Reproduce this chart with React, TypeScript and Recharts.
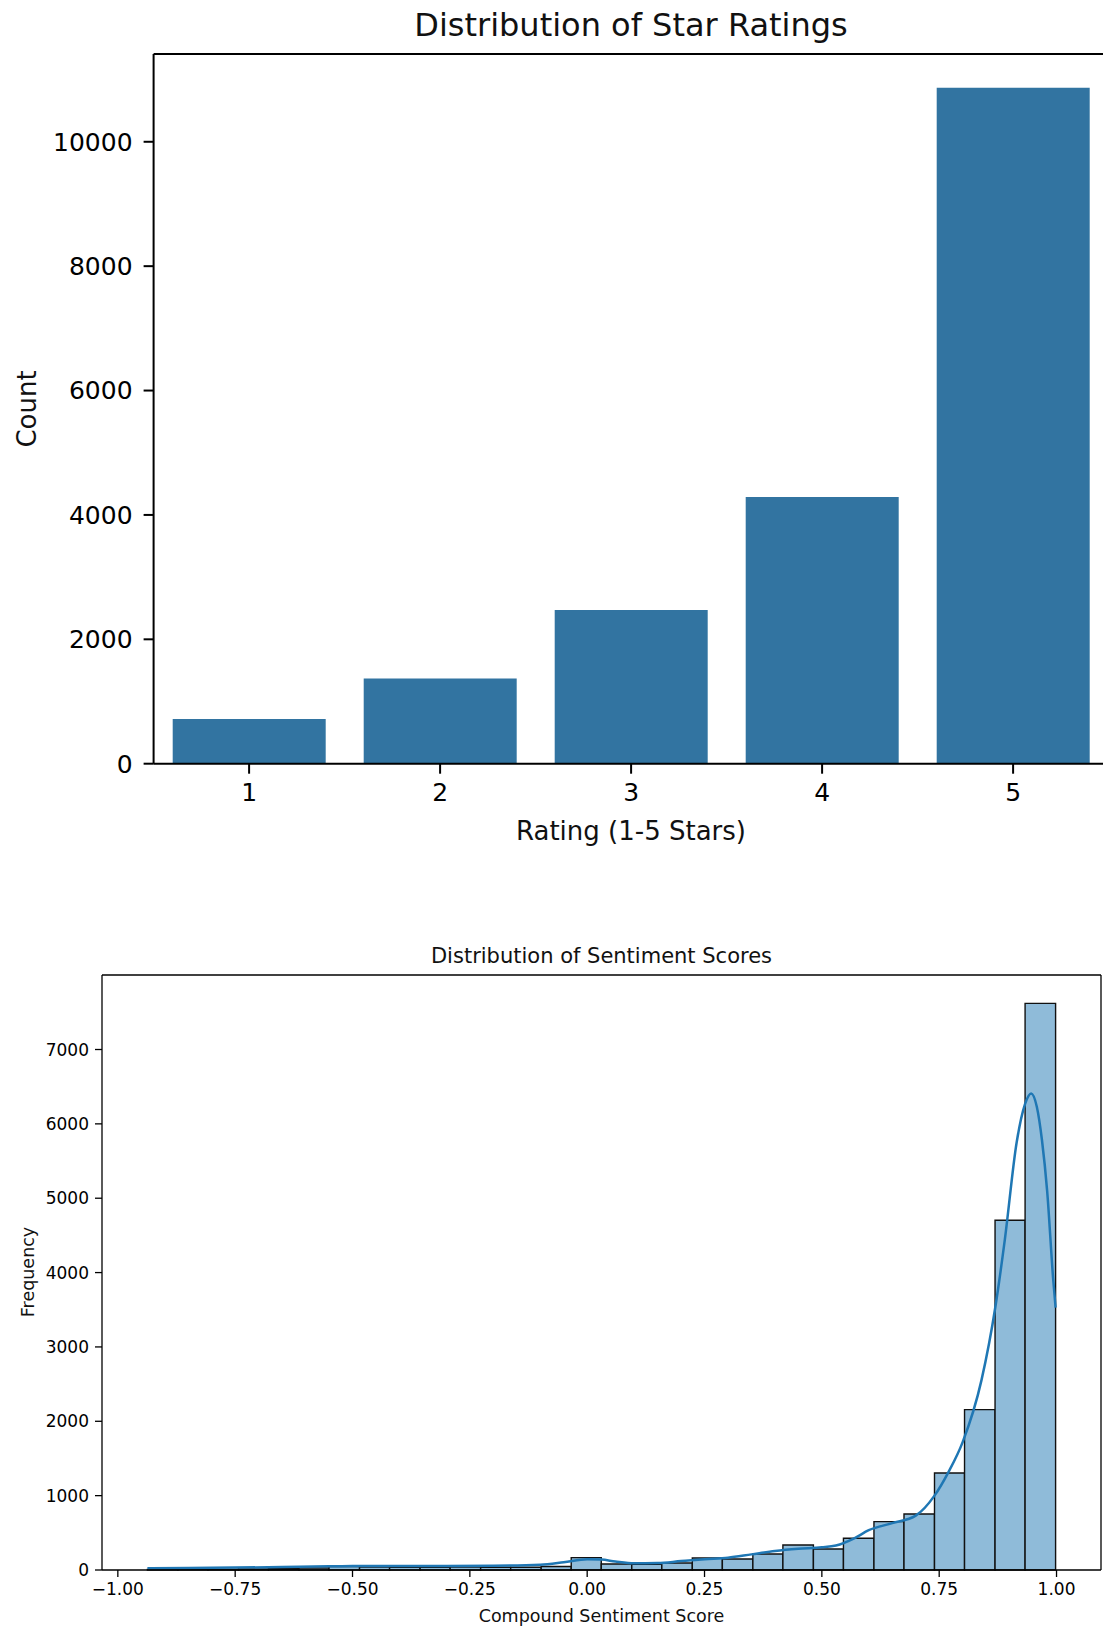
import { BarChart, Bar, XAxis, YAxis, ComposedChart, Line, ReferenceArea, ReferenceLine } from "recharts";

// star rating counts (top panel)
const ratingLabels = ["1", "2", "3", "4", "5"];
const ratingCounts = [718, 1369, 2471, 4290, 10868];
const countTicks = [0, 2000, 4000, 6000, 8000, 10000];

// sentiment histogram (bottom panel): 30 bins
const binEdges = [
  -0.937, -0.872, -0.808, -0.743, -0.679, -0.614, -0.55, -0.485, -0.421, -0.356, -0.292,
  -0.227, -0.163, -0.098, -0.034, 0.03, 0.095, 0.159, 0.224, 0.288, 0.353, 0.417, 0.482,
  0.546, 0.611, 0.675, 0.74, 0.804, 0.869, 0.933, 0.998,
];
const binCounts = [
  8, 10, 12, 15, 18, 27, 45, 40, 36, 36, 40, 36, 36, 48, 166, 81, 78, 94, 161, 148, 215, 336,
  283, 426, 650, 753, 1305, 2157, 4704, 7621,
];

// kde curve
const kdeX = [
  -0.937, -0.85, -0.75, -0.65, -0.55, -0.5, -0.4, -0.3, -0.2, -0.1, -0.05, 0.0, 0.03, 0.06, 0.1,
  0.15, 0.2, 0.25, 0.3, 0.35, 0.4, 0.45, 0.5, 0.53, 0.57, 0.6, 0.65, 0.7, 0.74, 0.77, 0.8, 0.84,
  0.87, 0.89, 0.915, 0.933, 0.946, 0.958, 0.969, 0.98, 0.993, 0.998,
];
const kdeY = [
  22, 26, 32, 40, 50, 55, 55, 55, 58, 72, 105, 145, 140, 115, 92, 93, 120, 145, 165, 210, 255,
  285, 305, 330, 430, 535, 630, 731, 1000, 1320, 1720, 2550, 3550, 4450, 5750, 6270, 6410, 6230,
  5780, 5100, 3900, 3530,
];
const freqTicks = [0, 1000, 2000, 3000, 4000, 5000, 6000, 7000];
const scoreTicks = [-1, -0.75, -0.5, -0.25, 0, 0.25, 0.5, 0.75, 1];

const FONT = "DejaVu Sans";
const INK = "#000";

const App = () => {
  const ratingData = ratingLabels.map((r, i) => ({ rating: r, count: ratingCounts[i] }));
  const countMax = Math.max(...ratingCounts) * 1.05;

  const kdeData = kdeX.map((x, i) => ({ x, y: kdeY[i] }));
  const lo = binEdges[0];
  const hi = binEdges[binEdges.length - 1];
  const pad = (hi - lo) * 0.05;
  const xDomain = [lo - pad, hi + pad];
  const freqMax = Math.max(...binCounts) * 1.05;

  const fmtScore = (v: number) => v.toFixed(2).replace("-", "\u2212");

  return (
    <div style={{ position: "absolute", left: 0, top: 0, width: 1103, height: 1627, overflow: "hidden", background: "#fff" }}>
      <div style={{ position: "absolute", left: 0, top: 0 }}>
        <BarChart width={1120} height={860} data={ratingData} barCategoryGap="10%"
          margin={{ top: 54, right: 11.4, bottom: 16.3, left: 0 }}>
          <XAxis dataKey="rating" height={80} interval={0} tickSize={10} tickMargin={10}
            tick={{ fontSize: 25, fill: INK, fontFamily: FONT }}
            tickLine={{ stroke: INK, strokeWidth: 2 }} axisLine={{ stroke: INK, strokeWidth: 2 }} />
          <YAxis width={153.6} domain={[0, countMax]} ticks={countTicks} interval={0} tickSize={10} tickMargin={11}
            allowDataOverflow tick={{ fontSize: 25, fill: INK, fontFamily: FONT }}
            tickLine={{ stroke: INK, strokeWidth: 2 }} axisLine={{ stroke: INK, strokeWidth: 2 }} />
          <Bar dataKey="count" fill="#3274a1" isAnimationActive={false} />
          {/* top spine */}
          <ReferenceLine y={countMax} stroke={INK} strokeWidth={2} ifOverflow="visible" />
        </BarChart>
      </div>

      <div style={{ position: "absolute", left: 0, top: 900 }}>
        <ComposedChart width={1103} height={727} margin={{ top: 75, right: 2, bottom: 17, left: 0 }}>
          <XAxis type="number" dataKey="x" domain={xDomain} ticks={scoreTicks} interval={0} allowDataOverflow
            height={40} tickSize={7} tickMargin={6} tickFormatter={fmtScore}
            tick={{ fontSize: 17, fill: INK, fontFamily: FONT }}
            tickLine={{ stroke: INK, strokeWidth: 1.3 }} axisLine={{ stroke: INK, strokeWidth: 1.3 }} />
          <YAxis width={102} domain={[0, freqMax]} ticks={freqTicks} interval={0} allowDataOverflow
            tickSize={7} tickMargin={6} tick={{ fontSize: 17, fill: INK, fontFamily: FONT }}
            tickLine={{ stroke: INK, strokeWidth: 1.3 }} axisLine={{ stroke: INK, strokeWidth: 1.3 }} />
          {binCounts.map((c, i) => (
            <ReferenceArea key={i} x1={binEdges[i]} x2={binEdges[i + 1]} y1={0} y2={c}
              fill="#8fbbd9" fillOpacity={1} stroke="#111" strokeOpacity={1} strokeWidth={1.4} ifOverflow="visible" />
          ))}
          <Line data={kdeData} dataKey="y" type="monotone" dot={false} stroke="#1f77b4" strokeWidth={2.5}
            isAnimationActive={false} />
          {/* top and right spines */}
          <ReferenceLine y={freqMax} stroke={INK} strokeWidth={1.3} ifOverflow="visible" />
          <ReferenceLine x={xDomain[1]} stroke={INK} strokeWidth={1.3} ifOverflow="visible" />
        </ComposedChart>
      </div>

      <svg width={1103} height={1627} style={{ position: "absolute", left: 0, top: 0, pointerEvents: "none" }}
        fontFamily={FONT} fill="#111">
        <text x={631} y={36.3} fontSize={32} textAnchor="middle">Distribution of Star Ratings</text>
        <text x={631} y={839.5} fontSize={26} textAnchor="middle">Rating (1-5 Stars)</text>
        <text x={36} y={409} fontSize={26} textAnchor="middle" transform="rotate(-90 36 409)">Count</text>
        <text x={601.5} y={963} fontSize={21} textAnchor="middle">Distribution of Sentiment Scores</text>
        <text x={601.5} y={1621.5} fontSize={17.5} textAnchor="middle">Compound Sentiment Score</text>
        <text x={33.5} y={1272} fontSize={17.5} textAnchor="middle" transform="rotate(-90 33.5 1272)">Frequency</text>
      </svg>
    </div>
  );
};

export default App;
